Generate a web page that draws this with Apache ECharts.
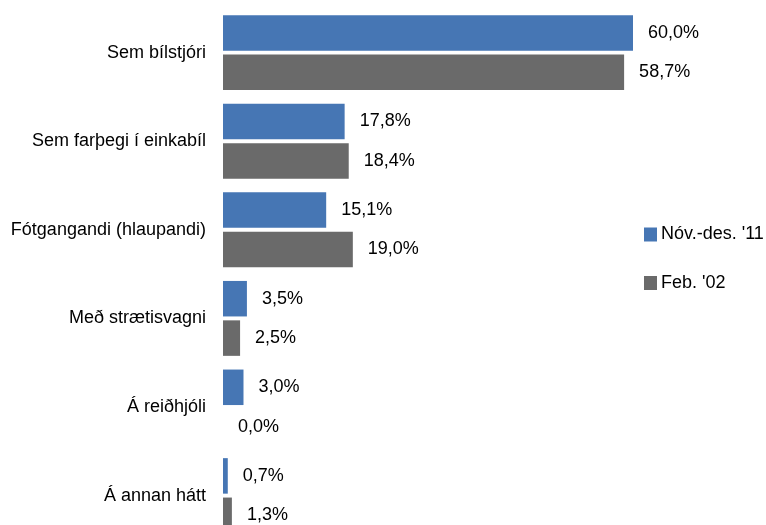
<!DOCTYPE html>
<html>
<head>
    <meta charset="utf-8">
    <title>Ferðamáti</title>
    <script src="https://cdn.jsdelivr.net/npm/echarts@6/dist/echarts.min.js"></script>
    <style>
        html, body { margin: 0; padding: 0; background: #fff; }
        #chart { width: 766px; height: 525px; }
    </style>
</head>
<body>
    <div id="chart"></div>
    <script>
        var categories = ['Sem bílstjóri', 'Sem farþegi í einkabíl', 'Fótgangandi (hlaupandi)', 'Með strætisvagni', 'Á reiðhjóli', 'Á annan hátt'];
        var seriesNames = ['Nóv.-des. \'11', 'Feb. \'02'];
        var nov11 = [60.0, 17.8, 15.1, 3.5, 3.0, 0.7];
        var feb02 = [58.7, 18.4, 19.0, 2.5, 0.0, 1.3];

        var font = '"Liberation Sans", Arial, sans-serif';

        // 60,0% - comma decimals
        var labelFmt = function (p) {
            return p.value.toFixed(1).replace('.', ',') + '%';
        };

        var chart = echarts.init(document.getElementById('chart'));
        chart.setOption({
            animation: false,
            textStyle: { fontFamily: font },
            grid: { left: 223, top: 8.3, width: 410, height: 531.6, outerBoundsMode: 'none', containLabel: false },
            legend: {
                orient: 'vertical',
                left: 639,
                top: 220.5,
                itemWidth: 13,
                itemHeight: 14,
                itemGap: 30.5,
                icon: 'rect',
                textStyle: { fontSize: 18, lineHeight: 18, color: '#000', fontFamily: font, padding: [0, 0, 0, -1] },
                data: seriesNames
            },
            xAxis: {
                type: 'value',
                min: 0,
                max: 60,
                show: false
            },
            yAxis: {
                type: 'category',
                inverse: true,
                data: categories,
                axisLine: { show: false },
                axisTick: { show: false },
                axisLabel: { margin: 17, fontSize: 18, color: '#000', fontFamily: font }
            },
            series: [
                {
                    name: seriesNames[0],
                    type: 'bar',
                    data: nov11,
                    barWidth: 35.5,
                    barGap: '11%',
                    itemStyle: { color: '#4676b4' },
                    label: { show: true, position: 'right', distance: 15, fontSize: 18, color: '#000', formatter: labelFmt }
                },
                {
                    name: seriesNames[1],
                    type: 'bar',
                    data: feb02,
                    barWidth: 35.5,
                    barGap: '11%',
                    itemStyle: { color: '#6a6a6a' },
                    label: { show: true, position: 'right', distance: 15, fontSize: 18, color: '#000', formatter: labelFmt }
                }
            ]
        });
    </script>
</body>
</html>
